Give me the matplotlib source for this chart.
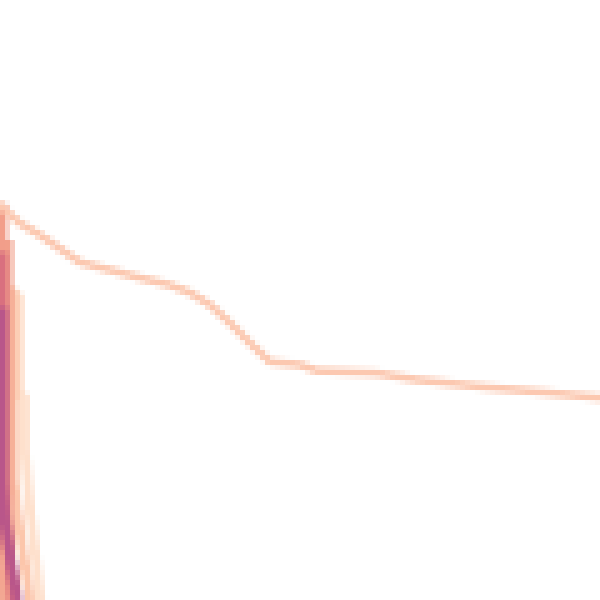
import numpy as np
import matplotlib
matplotlib.use("Agg")
import matplotlib.pyplot as plt

# main (lightest) series, flattening out to the right
main_x = [0, 3.3, 6.7, 13.3, 18.3, 23.3, 28.3, 31.7, 35, 38.3, 41.7, 45, 50, 52.8, 62.8, 69.5, 80.5, 91.7, 100]
main_y = [65.8, 62.8, 60.8, 56.3, 55, 53.7, 52.5, 51.2, 49.2, 46.2, 42.8, 39.7, 39.2, 38.2, 37.8, 36.7, 35.5, 34.5, 33.7]

# steep series hugging the left edge
steep_x = [
    [0, 3.2, 3.2, 4.1, 4.1, 5, 6.7],
    [0, 2.25, 2.25, 3.5, 5],
    [0, 0.2],
    [1.33, 1.33, 1.6, 2.0],
    [0.4, 0.4, 0.6, 1.0],
    [0.4, 0.4, 1.2, 1.8, 2.3],
    [0.4, 0.4, 0.8, 1.6, 2.9],
]
steep_y = [
    [51, 50.5, 34, 33.8, 25, 15, 0],
    [52, 51.3, 20, 10, 0],
    [5, 0],
    [60, 20, 10, 0],
    [66, 48, 20, 0],
    [58, 20, 11, 5, 0],
    [48.7, 19, 13, 8, 0],
]
steep_colors = ["#fee0cc", "#fcc6ab", "#fbd0b8", "#f2a08b", "#f29e8a", "#d9707f", "#b9568a"]

# draw small, then blow up so it looks like the pixelated reference
small = plt.figure(figsize=(1.2, 1.2), dpi=100)
ax = small.add_axes([0, 0, 1, 1])
for xs, ys, c in zip(steep_x, steep_y, steep_colors):
    ax.plot(xs, ys, color=c, lw=1.4, solid_capstyle="butt")
ax.plot(main_x, main_y, color="#fcc8b0", lw=1.1)
ax.set_xlim(0, 100)
ax.set_ylim(0, 100)
ax.axis("off")
small.canvas.draw()
img = np.asarray(small.canvas.buffer_rgba()).copy()
plt.close(small)

fig = plt.figure(figsize=(6, 6), dpi=100)
ax2 = fig.add_axes([0, 0, 1, 1])
ax2.imshow(img, interpolation="nearest")
ax2.axis("off")
fig.savefig("out.png", dpi=100)
